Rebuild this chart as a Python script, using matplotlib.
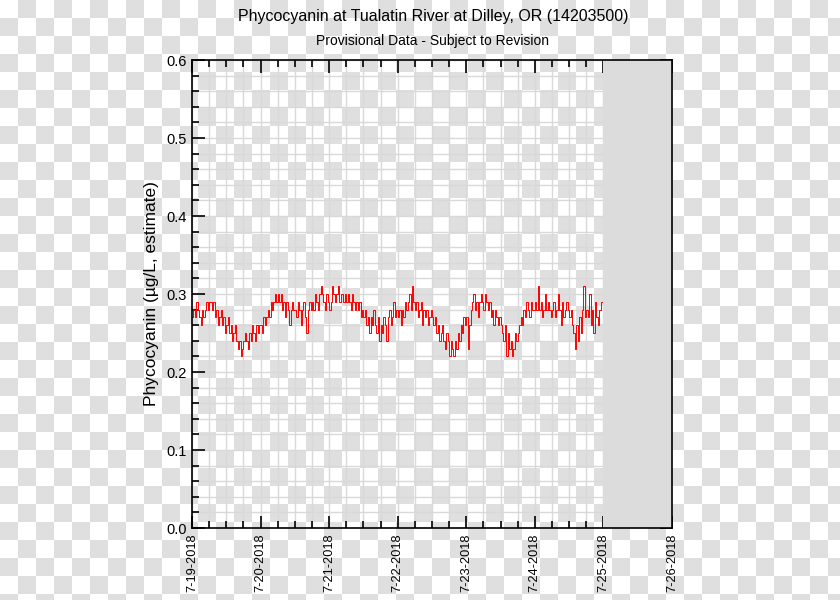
import matplotlib
matplotlib.use("Agg")
import matplotlib.pyplot as plt
import numpy as np

plt.rcParams['font.family'] = ['Liberation Sans', 'DejaVu Sans']

# phycocyanin, ug/L, 30-minute values starting 7-19-2018 00:00
phyco = [
    27, 28, 27, 29, 28, 27, 26, 28, 27, 28, 29, 28,
    29, 29, 28, 29, 27, 28, 26, 27, 28, 26, 27, 25,
    26, 27, 25, 26, 24, 25, 26, 24, 23, 24, 22, 23,
    24, 25, 24, 23, 25, 24, 26, 25, 24, 26, 25, 26,
    26, 25, 27, 26, 27, 28, 27, 29, 28, 29, 30, 29,
    30, 29, 30, 28, 29, 27, 29, 28, 26, 28, 29, 28,
    28, 27, 29, 28, 26, 28, 29, 27, 25, 28, 29, 28,
    29, 28, 30, 29, 28, 30, 31, 30, 29, 28, 30, 29,
    28, 29, 31, 30, 29, 30, 31, 29, 30, 30, 29, 30,
    29, 30, 29, 28, 30, 29, 28, 29, 28, 29, 27, 28,
    27, 28, 26, 27, 25, 27, 26, 28, 26, 25, 27, 24,
    26, 25, 27, 26, 24, 27, 28, 26, 27, 29, 27, 28,
    27, 28, 26, 28, 27, 29, 28, 29, 30, 28, 31, 29,
    28, 29, 27, 28, 29, 26, 28, 27, 28, 26, 27, 28,
    27, 26, 27, 25, 26, 24, 25, 26, 24, 23, 25, 24,
    22, 24, 23, 22, 24, 23, 25, 24, 26, 25, 27, 26,
    27, 23, 26, 28, 29, 30, 28, 29, 27, 29, 30, 29,
    28, 30, 29, 28, 29, 27, 28, 26, 28, 27, 26, 27,
    26, 25, 24, 26, 22, 25, 23, 24, 22, 23, 25, 24,
    25, 26, 27, 26, 28, 27, 29, 28, 27, 29, 28, 28,
    29, 28, 31, 28, 29, 27, 28, 30, 28, 29, 28, 27,
    28, 29, 27, 28, 30, 28, 26, 29, 27, 28, 29, 28,
    27, 28, 26, 25, 23, 26, 24, 27, 25, 28, 31, 27,
    28, 27, 30, 26, 28, 25, 29, 27, 26, 28, 29, 29,
]
day_labels = ['7-19-2018', '7-20-2018', '7-21-2018', '7-22-2018',
              '7-23-2018', '7-24-2018', '7-25-2018', '7-26-2018']
y_ticks = [0.0, 0.1, 0.2, 0.3, 0.4, 0.5, 0.6]

vals = np.array(phyco) / 100.0
t = np.arange(len(vals)) / 48.0  # days since 7-19

fig = plt.figure(figsize=(8.4, 6), dpi=100)

# transparent-png checkerboard behind everything
bg = fig.add_axes([0, 0, 1, 1], zorder=-5)
cell = 18
nx, ny = 840 // cell + 1, 600 // cell + 1
checker = (np.add.outer(np.arange(ny), np.arange(nx)) % 2).astype(float)
bg.imshow(checker, cmap='gray_r', vmin=0, vmax=8, interpolation='nearest',
          extent=(0, nx * cell, ny * cell, 0), aspect='auto')
bg.set_xlim(0, 840)
bg.set_ylim(600, 0)
bg.axis('off')

ax = fig.add_axes([192 / 840, 72 / 600, 480 / 840, 468 / 600])
ax.set_facecolor('none')

# grid at every minor tick
for gx in np.arange(0, 7.001, 0.25):
    ax.axvline(gx, color='#d9d9d9', lw=1, zorder=1)
for gy in np.arange(0, 0.6001, 0.02):
    ax.axhline(gy, color='#d9d9d9', lw=1, zorder=1)

# days without data
ax.axvspan(6, 7, color='#dcdcdc', lw=0, zorder=2)

ax.plot(t, vals, color='red', lw=0.7, drawstyle='steps-post', zorder=3)

ax.set_xlim(0, 7)
ax.set_ylim(0, 0.6)
ax.set_xticks(range(8))
ax.set_xticklabels(day_labels, rotation=90, fontsize=9.2)
ax.set_xticks(np.arange(0, 7.001, 0.25), minor=True)
ax.set_yticks(y_ticks)
ax.set_yticklabels(['%.1f' % v for v in y_ticks], fontsize=10.5)
ax.set_yticks(np.arange(0, 0.6001, 0.02), minor=True)
ax.tick_params(which='both', direction='in', top=True, right=True, width=1.2)
ax.tick_params(which='major', length=9, pad=4)
ax.tick_params(which='minor', length=5)
for s in ax.spines.values():
    s.set_linewidth(1.2)
    s.set_zorder(4)

ax.set_ylabel('Phycocyanin (µg/L, estimate)', fontsize=12.5, labelpad=5)
fig.text(433 / 840, 1 - 17 / 600, 'Phycocyanin at Tualatin River at Dilley, OR (14203500)',
         ha='center', va='center', fontsize=11.5)
fig.text(433 / 840, 1 - 41 / 600, 'Provisional Data - Subject to Revision',
         ha='center', va='center', fontsize=10)

fig.savefig('out.png', dpi=100)
